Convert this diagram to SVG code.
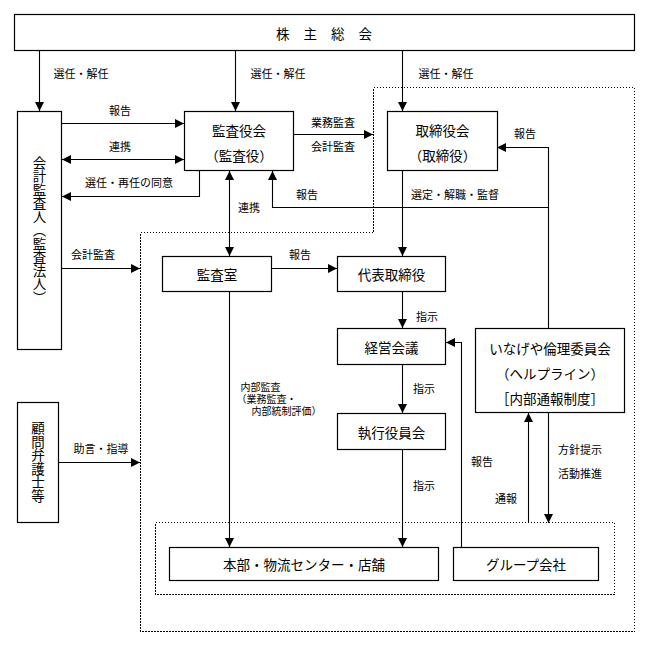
<svg xmlns="http://www.w3.org/2000/svg" width="648" height="645" viewBox="0 0 648 645">
<style>
  .box { fill: #fff; stroke: #000; stroke-width: 1.2; }
  .dot { fill: none; stroke: #000; stroke-width: 1; stroke-dasharray: 1.5 1.5; shape-rendering: crispEdges; }
  .ln { fill: none; stroke: #000; stroke-width: 1.1; }
  .n { font-family: "Noto Sans CJK JP", "Noto Sans", sans-serif; font-size: 13.5px; fill: #000; text-anchor: middle; dominant-baseline: central; }
  .vt { font-family: "Noto Sans CJK JP", "Noto Sans", sans-serif; font-size: 13.5px; fill: #000; text-anchor: middle; writing-mode: vertical-rl; }
  .l { font-family: "Noto Sans CJK JP", "Noto Sans", sans-serif; font-size: 11px; fill: #000; text-anchor: middle; dominant-baseline: central; }
  .s { font-family: "Noto Sans CJK JP", "Noto Sans", sans-serif; font-size: 10px; fill: #000; dominant-baseline: central; }
</style>
<defs>
  <marker id="ah" viewBox="0 0 10 10" refX="10" refY="5" markerWidth="9" markerHeight="9" markerUnits="userSpaceOnUse" orient="auto-start-reverse">
    <path d="M0,0 L10,5 L0,10 z" fill="#000"/>
  </marker>
</defs>
<rect width="648" height="645" fill="#fff"/>

<g id="frames">
  <path class="dot" d="M373.5,87.5 H634.5 V631.5 H140.5 V232.5 H373.5 Z"/>
  <rect class="dot" x="155.5" y="522.5" width="459" height="72"/>
</g>

<g id="connectors">
  <line class="ln" x1="39.5" y1="50" x2="39.5" y2="111" marker-end="url(#ah)"/>
  <line class="ln" x1="235.5" y1="50" x2="235.5" y2="111" marker-end="url(#ah)"/>
  <line class="ln" x1="402.5" y1="50" x2="402.5" y2="111" marker-end="url(#ah)"/>
  <line class="ln" x1="62" y1="123.5" x2="184" y2="123.5" marker-end="url(#ah)"/>
  <line class="ln" x1="62" y1="159.5" x2="184" y2="159.5" marker-start="url(#ah)" marker-end="url(#ah)"/>
  <polyline class="ln" points="199.5,171 199.5,196.5 62,196.5" marker-end="url(#ah)"/>
  <line class="ln" x1="293" y1="134.5" x2="373" y2="134.5" marker-end="url(#ah)"/>
  <polyline class="ln" points="548.5,328 548.5,147.5 497,147.5" marker-end="url(#ah)"/>
  <polyline class="ln" points="548.5,207.5 272.5,207.5 272.5,171" marker-end="url(#ah)"/>
  <line class="ln" x1="229.5" y1="171" x2="229.5" y2="256" marker-start="url(#ah)" marker-end="url(#ah)"/>
  <line class="ln" x1="272" y1="268.5" x2="337" y2="268.5" marker-end="url(#ah)"/>
  <line class="ln" x1="402.5" y1="171" x2="402.5" y2="256" marker-end="url(#ah)"/>
  <line class="ln" x1="402.5" y1="292" x2="402.5" y2="328" marker-end="url(#ah)"/>
  <line class="ln" x1="402.5" y1="365" x2="402.5" y2="413" marker-end="url(#ah)"/>
  <line class="ln" x1="402.5" y1="450" x2="402.5" y2="547" marker-end="url(#ah)"/>
  <line class="ln" x1="229.5" y1="292" x2="229.5" y2="547" marker-end="url(#ah)"/>
  <polyline class="ln" points="461.5,547 461.5,342.5 446,342.5" marker-end="url(#ah)"/>
  <line class="ln" x1="528.5" y1="523" x2="528.5" y2="413" marker-end="url(#ah)"/>
  <line class="ln" x1="548.5" y1="413" x2="548.5" y2="523" marker-end="url(#ah)"/>
  <line class="ln" x1="62" y1="268.5" x2="140" y2="268.5" marker-end="url(#ah)"/>
  <line class="ln" x1="58" y1="462.5" x2="140" y2="462.5" marker-end="url(#ah)"/>
</g>

<g id="labels">
  <text class="l" x="81" y="73">選任・解任</text>
  <text class="l" x="278" y="73">選任・解任</text>
  <text class="l" x="446" y="73">選任・解任</text>
  <text class="l" x="120" y="110">報告</text>
  <text class="l" x="120" y="146">連携</text>
  <text class="l" x="129" y="182">選任・再任の同意</text>
  <text class="l" x="333" y="122">業務監査</text>
  <text class="l" x="333" y="146">会計監査</text>
  <text class="l" x="525" y="133">報告</text>
  <text class="l" x="307" y="194">報告</text>
  <text class="l" x="455" y="194">選定・解職・監督</text>
  <text class="l" x="249" y="207">連携</text>
  <text class="l" x="300" y="254">報告</text>
  <text class="l" x="93" y="254">会計監査</text>
  <text class="l" x="427" y="316">指示</text>
  <text class="l" x="424" y="388">指示</text>
  <text class="l" x="424" y="485">指示</text>
  <text class="l" x="482" y="461">報告</text>
  <text class="l" x="506" y="498">通報</text>
  <text class="l" x="580" y="449">方針提示</text>
  <text class="l" x="580" y="473">活動推進</text>
  <text class="l" x="101" y="448">助言・指導</text>
  <text class="s"><tspan x="240.5" y="386">内部監査</tspan><tspan x="236.5" y="398">（業務監査・</tspan><tspan x="251.5" y="410">内部統制評価）</tspan></text>
</g>

<g id="shareholders">
  <rect class="box" x="14.5" y="14.5" width="620" height="36"/>
  <text class="n" x="324" y="33" word-spacing="11">株 主 総 会</text>
</g>
<g id="accounting-auditor">
  <rect class="box" x="17.5" y="111.5" width="44" height="238"/>
  <text class="vt" x="39.5" y="230">会計監査人（監査法人）</text>
</g>
<g id="legal-advisor">
  <rect class="box" x="17.5" y="402.5" width="41" height="120"/>
  <text class="vt" x="38" y="462">顧問弁護士等</text>
</g>
<g id="audit-board">
  <rect class="box" x="184.5" y="111.5" width="109" height="59"/>
  <text class="n" x="239" y="130">監査役会</text>
  <text class="n" x="239" y="155">（監査役）</text>
</g>
<g id="board">
  <rect class="box" x="387.5" y="111.5" width="110" height="59"/>
  <text class="n" x="442.5" y="130">取締役会</text>
  <text class="n" x="442.5" y="155">（取締役）</text>
</g>
<g id="audit-office">
  <rect class="box" x="162.5" y="256.5" width="109" height="35"/>
  <text class="n" x="217" y="274">監査室</text>
</g>
<g id="president">
  <rect class="box" x="337.5" y="256.5" width="108" height="35"/>
  <text class="n" x="391.5" y="274">代表取締役</text>
</g>
<g id="management">
  <rect class="box" x="337.5" y="328.5" width="108" height="36"/>
  <text class="n" x="391.5" y="347">経営会議</text>
</g>
<g id="executive">
  <rect class="box" x="337.5" y="413.5" width="108" height="36"/>
  <text class="n" x="391.5" y="432">執行役員会</text>
</g>
<g id="ethics">
  <rect class="box" x="475.5" y="328.5" width="149" height="84"/>
  <text class="n" x="550" y="348">いなげや倫理委員会</text>
  <text class="n" x="550" y="373">（ヘルプライン）</text>
  <text class="n" x="550" y="398">［内部通報制度］</text>
</g>
<g id="headquarters">
  <rect class="box" x="169.5" y="547.5" width="269" height="33"/>
  <text class="n" x="304" y="564">本部・物流センター・店舗</text>
</g>
<g id="group">
  <rect class="box" x="453.5" y="547.5" width="145" height="33"/>
  <text class="n" x="526" y="564">グループ会社</text>
</g>
</svg>
